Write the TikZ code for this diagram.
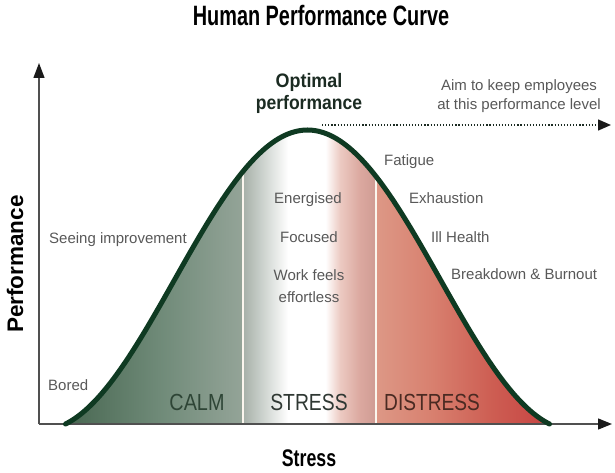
\documentclass[tikz,border=0pt]{standalone}
\usepackage{fontspec}
\setmainfont{Liberation Sans}
\usetikzlibrary{arrows.meta}
\definecolor{curvegreen}{HTML}{0F3A22}
\definecolor{axisgray}{HTML}{505050}
\definecolor{tipblack}{HTML}{1A1A1A}
\definecolor{txtgray}{HTML}{585858}
\definecolor{darkhead}{HTML}{1B2B22}
\definecolor{calmtxt}{HTML}{2E4536}
\definecolor{stresstxt}{HTML}{2F3833}
\definecolor{distresstxt}{HTML}{4A2A22}
\definecolor{calmA}{HTML}{46654F}
\definecolor{calmB}{HTML}{6F8A78}
\definecolor{calmC}{HTML}{94A498}
\definecolor{midA}{HTML}{A6B0A8}
\definecolor{midB}{HTML}{D5DAD6}
\definecolor{midC}{HTML}{ECCAC2}
\definecolor{midD}{HTML}{DBA89F}
\definecolor{midE}{HTML}{CF9B93}
\definecolor{disA}{HTML}{DD9886}
\definecolor{disB}{HTML}{D8806F}
\definecolor{disC}{HTML}{CD5D52}
\definecolor{disD}{HTML}{C64040}
\definecolor{divider}{HTML}{FBF6EE}
\pgfdeclarehorizontalshading{calmsh}{100bp}{color(0bp)=(calmA); color(25bp)=(calmA); color(52bp)=(calmB); color(75bp)=(calmC); color(100bp)=(calmC)}
\pgfdeclarehorizontalshading{stresssh}{100bp}{color(0bp)=(midA); color(25bp)=(midA); color(34bp)=(midB); color(42bp)=(white); color(56bp)=(white); color(61.5bp)=(midC); color(69bp)=(midD); color(75bp)=(midE); color(100bp)=(midE)}
\pgfdeclarehorizontalshading{distresssh}{100bp}{color(0bp)=(disA); color(25bp)=(disA); color(40.5bp)=(disB); color(57.5bp)=(disC); color(75bp)=(disD); color(100bp)=(disD)}
\tikzset{
  lbl/.style={font=\fontsize{15}{18}\selectfont, text=txtgray, inner sep=0pt},
  zone/.style={font=\fontsize{23.3}{26}\selectfont, inner sep=0pt, anchor=base},
  headlbl/.style={font=\fontsize{19.5}{22}\selectfont\bfseries, text=darkhead, inner sep=0pt, anchor=base},
  axisline/.style={draw=axisgray, line width=1.3pt},
  bellline/.style={draw=curvegreen, line width=5pt, line cap=round},
  dividerline/.style={draw=divider, line width=2.5pt},
}
\begin{document}
\begin{tikzpicture}[x=1pt,y=-1pt]
\useasboundingbox (0,0) rectangle (615,473);
% coordinates
\coordinate (o) at (39,424);
\coordinate (ytop) at (39,63);
\coordinate (xend) at (612,424);
\coordinate (dotstart) at (322,125);
\coordinate (dotend) at (611,125);
\coordinate (d1b) at (243,424);
\coordinate (d1t) at (243,120);
\coordinate (d2b) at (376,424);
\coordinate (d2t) at (376,120);
% filled area
\begin{scope}
  \clip plot[domain=-242:242, samples=121, smooth] ({307.5+\x},{280.04-150.05*cos(0.6762*\x)}) -- cycle;
  \fill[shading=calmsh] (60,424) rectangle (243,120);
  \fill[shading=stresssh] (243,424) rectangle (376,120);
  \fill[shading=distresssh] (376,424) rectangle (556,120);
  \draw[dividerline] (d1b) -- (d1t);
  \draw[dividerline] (d2b) -- (d2t);
\end{scope}
% axes
\draw[axisline, -{Triangle[length=15pt,width=11pt,color=tipblack]}] (o) -- (ytop);
\draw[axisline, -{Triangle[length=14pt,width=11pt,color=tipblack]}] (o) -- (xend);
% bell curve
\draw[bellline] plot[domain=-242:242, samples=121, smooth] ({307.5+\x},{280.04-150.05*cos(0.6762*\x)});
% dotted level line
\draw[draw=darkhead, line width=1.4pt, dash pattern=on 1.2pt off 1.9pt, -{Triangle[length=13pt,width=11pt,color=tipblack]}] (dotstart) -- (dotend);
% titles
\node[anchor=base, inner sep=0pt, text=black] (title) at (321,26) {\fontsize{28}{30}\selectfont\bfseries\scalebox{0.71}[1]{Human Performance Curve}};
\node[anchor=base, inner sep=0pt, text=black] (xlabel) at (309,466) {\fontsize{24}{26}\selectfont\bfseries\scalebox{0.74}[1]{Stress}};
\node[rotate=90, inner sep=0pt, text=black] (ylabel) at (15,264) {\fontsize{22.5}{24}\selectfont\bfseries Performance};
% optimal
\node[headlbl] (opt1) at (309,88) {\scalebox{0.92}[1]{Optimal}};
\node[headlbl] (opt2) at (309,110) {\scalebox{0.9}[1]{performance}};
\node[lbl, anchor=base] (aim1) at (519,91) {Aim to keep employees};
\node[lbl, anchor=base] (aim2) at (519,110) {at this performance level};
% left labels
\node[lbl, anchor=base west] (seeing) at (49,243) {Seeing improvement};
\node[lbl, anchor=base west] (bored) at (48,390) {Bored};
% middle labels
\node[lbl, anchor=base] (energ) at (308,203.5) {Energised};
\node[lbl, anchor=base] (focus) at (309,242.5) {Focused};
\node[lbl, anchor=base] (work) at (309,280.5) {Work feels};
\node[lbl, anchor=base] (effort) at (309,302.5) {effortless};
% right labels
\node[lbl, anchor=base west] (fat) at (384,165.5) {Fatigue};
\node[lbl, anchor=base west] (exh) at (409,203.5) {Exhaustion};
\node[lbl, anchor=base west] (ill) at (431,242.5) {Ill Health};
\node[lbl, anchor=base west] (burn) at (451,279.5) {Breakdown \& Burnout};
% zone labels
\node[zone, text=calmtxt] (calm) at (197,410) {\scalebox{0.85}[1]{CALM}};
\node[zone, text=stresstxt] (stress) at (309,410) {\scalebox{0.83}[1]{STRESS}};
\node[zone, text=distresstxt] (distress) at (432,410) {\scalebox{0.82}[1]{DISTRESS}};
\end{tikzpicture}
\end{document}
